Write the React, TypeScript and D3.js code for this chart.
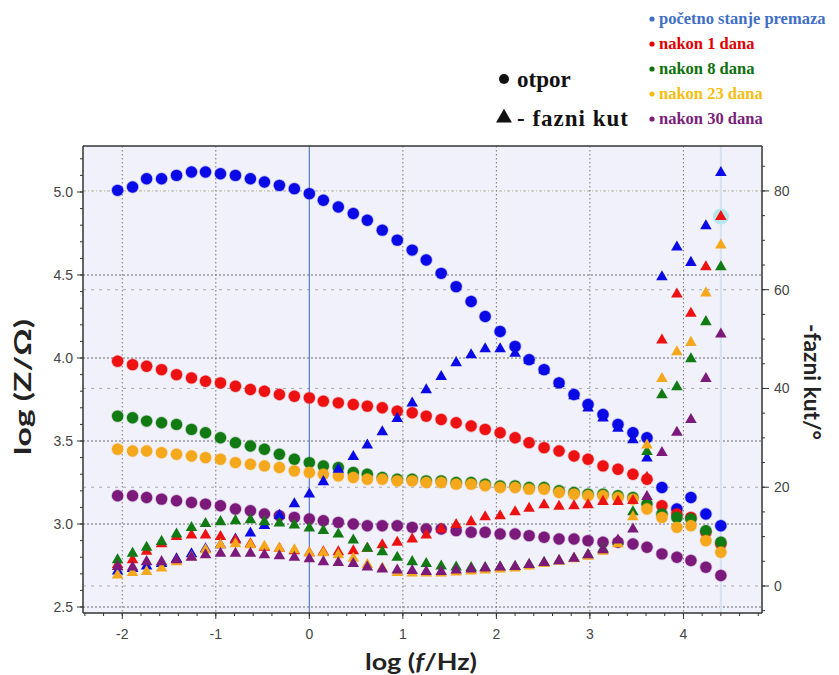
import React from 'react';
import * as d3 from 'd3';

const logF = [-2.05, -1.89, -1.74, -1.58, -1.42, -1.26, -1.11, -0.95, -0.79, -0.63, -0.48, -0.32, -0.16, 0.0, 0.15, 0.31, 0.47, 0.62, 0.78, 0.94, 1.10, 1.25, 1.41, 1.57, 1.73, 1.88, 2.04, 2.20, 2.35, 2.51, 2.67, 2.83, 2.98, 3.14, 3.30, 3.46, 3.61, 3.77, 3.93, 4.08, 4.24, 4.40];

const seriesNames = ['početno stanje premaza', 'nakon 1 dana', 'nakon 8 dana', 'nakon 23 dana', 'nakon 30 dana'];
const markerColors = ['#0a0ae6', '#ee1111', '#127a12', '#f6a81c', '#7b1a7b'];
const legendColors = ['#3f6fc6', '#e00000', '#0d700d', '#f7bd10', '#7a1f7a'];

const blueZ = [5.01, 5.03, 5.08, 5.08, 5.10, 5.12, 5.12, 5.11, 5.10, 5.08, 5.06, 5.04, 5.02, 4.99, 4.95, 4.91, 4.87, 4.83, 4.77, 4.71, 4.65, 4.59, 4.51, 4.43, 4.34, 4.25, 4.16, 4.07, 3.99, 3.93, 3.85, 3.78, 3.72, 3.66, 3.60, 3.55, 3.52, 3.22, 3.09, 3.16, 3.06, 2.99];
const redZ = [3.98, 3.96, 3.95, 3.93, 3.90, 3.88, 3.86, 3.85, 3.83, 3.81, 3.80, 3.78, 3.77, 3.76, 3.74, 3.73, 3.72, 3.71, 3.70, 3.68, 3.67, 3.65, 3.63, 3.61, 3.59, 3.57, 3.55, 3.52, 3.49, 3.46, 3.44, 3.41, 3.39, 3.35, 3.33, 3.30, 3.27, 3.11, 3.06, 3.04, 2.95, 2.88];
const greenZ = [3.65, 3.64, 3.62, 3.61, 3.60, 3.57, 3.55, 3.52, 3.49, 3.47, 3.45, 3.42, 3.39, 3.37, 3.35, 3.34, 3.31, 3.30, 3.28, 3.27, 3.27, 3.26, 3.26, 3.25, 3.25, 3.24, 3.23, 3.23, 3.22, 3.22, 3.20, 3.19, 3.18, 3.18, 3.17, 3.16, 3.12, 3.06, 3.04, 3.03, 2.96, 2.89];
const orangeZ = [3.45, 3.44, 3.44, 3.43, 3.42, 3.41, 3.40, 3.39, 3.37, 3.36, 3.35, 3.34, 3.32, 3.31, 3.30, 3.29, 3.28, 3.27, 3.27, 3.26, 3.26, 3.25, 3.25, 3.24, 3.24, 3.23, 3.22, 3.22, 3.21, 3.21, 3.19, 3.18, 3.17, 3.17, 3.16, 3.15, 3.09, 3.04, 2.98, 2.99, 2.90, 2.83];
const purpleZ = [3.17, 3.17, 3.16, 3.15, 3.14, 3.13, 3.12, 3.11, 3.09, 3.08, 3.06, 3.05, 3.04, 3.03, 3.02, 3.01, 3.00, 2.99, 2.99, 2.99, 2.98, 2.97, 2.97, 2.96, 2.95, 2.95, 2.94, 2.94, 2.93, 2.92, 2.91, 2.91, 2.90, 2.89, 2.89, 2.88, 2.86, 2.82, 2.80, 2.78, 2.74, 2.69];

const bluePhase = [3.0, 3.5, 4.0, 4.5, 5.5, 6.5, 7.5, 8.3, 9.5, 10.7, 12.2, 14.3, 16.6, 18.6, 21.1, 23.6, 26.2, 28.5, 31.2, 33.9, 37.0, 39.7, 42.4, 45.2, 46.8, 48.0, 48.0, 47.1, 45.7, 43.7, 41.0, 38.5, 36.0, 34.0, 31.9, 29.6, 25.9, 62.6, 68.6, 65.5, 72.9, 83.7];
const redPhase = [4.3, 5.3, 7.0, 8.5, 10.0, 10.3, 10.3, 10.0, 9.3, 8.5, 7.8, 7.6, 7.1, 6.7, 6.9, 6.9, 7.1, 7.6, 8.3, 8.8, 9.5, 10.3, 11.5, 12.4, 13.0, 14.0, 14.2, 15.0, 15.7, 16.4, 16.1, 16.2, 16.4, 17.1, 17.1, 17.3, 22.0, 49.8, 59.1, 55.2, 64.6, 74.8];
const greenPhase = [5.3, 6.6, 7.8, 9.0, 10.5, 11.8, 12.6, 13.0, 13.2, 13.4, 13.0, 12.7, 12.3, 11.7, 11.2, 10.5, 9.3, 7.6, 6.9, 5.8, 4.9, 4.5, 4.0, 3.8, 3.7, 3.7, 3.8, 3.9, 4.3, 4.7, 5.1, 5.6, 6.3, 7.5, 9.0, 15.0, 27.2, 38.7, 40.3, 46.0, 53.5, 64.6];
const orangePhase = [2.2, 2.7, 2.9, 3.6, 4.9, 5.9, 7.3, 8.3, 8.5, 8.3, 8.0, 7.6, 7.3, 6.7, 6.7, 6.3, 5.6, 4.3, 3.6, 2.7, 2.6, 2.6, 2.6, 2.8, 3.0, 3.2, 3.4, 3.6, 4.0, 4.5, 5.0, 5.5, 6.0, 7.0, 8.5, 14.0, 28.5, 42.0, 47.4, 49.3, 59.3, 69.0];
const purplePhase = [3.9, 3.8, 4.9, 4.9, 5.3, 5.8, 6.3, 6.6, 6.6, 6.6, 6.3, 6.1, 5.8, 5.5, 4.9, 4.7, 4.5, 3.8, 3.4, 3.2, 3.1, 2.9, 2.9, 3.2, 3.4, 3.6, 3.8, 3.9, 4.3, 4.7, 5.1, 5.6, 6.3, 7.3, 9.3, 11.5, 18.1, 27.0, 31.1, 33.7, 42.0, 51.0];

const zSeries = [blueZ, redZ, greenZ, orangeZ, purpleZ];
const phaseSeries = [bluePhase, redPhase, greenPhase, orangePhase, purplePhase];

const leftTicks = [2.5, 3.0, 3.5, 4.0, 4.5, 5.0];
const rightTicks = [0, 20, 40, 60, 80];
const xTicks = [-2, -1, 0, 1, 2, 3, 4];
const xTickLabels = ['-2', '-1', '0', '1', '2', '3', '4'];

const W = 839, H = 675;
const L = 83, R = 762, T = 146, B = 613;

export default function App() {
  const x = d3.scaleLinear().domain([-2.42, 4.84]).range([L, R]);
  const yL = d3.scaleLinear().domain([2.464, 5.277]).range([B, T]);
  const yR = d3.scaleLinear().domain([-5.47, 89.1]).range([B, T]);
  const tri = d3.symbol(d3.symbolTriangle, 58)() as string;
  const fmt = d3.format('.1f');

  const leftMinor = d3.range(2.5, 5.25, 0.1).map(v => +v.toFixed(2));
  const rightMinor = d3.range(-5, 90, 5);
  const xMinor = d3.range(-2.4, 4.85, 0.2).map(v => +v.toFixed(2));

  const tickFont = { fontFamily: 'Liberation Sans, Arial, sans-serif', fontSize: 14, fill: '#444' };
  const titleFont = { fontFamily: 'Lato, "Open Sans", sans-serif', fontSize: 23, fontWeight: 700, fill: '#222' };
  const serifBold = { fontFamily: '"Liberation Serif", "Times New Roman", serif', fontWeight: 700 };

  return (
    <svg width={W} height={H} style={{ position: 'absolute', left: 0, top: 0, background: '#fff' }}>
      <rect x={L} y={T} width={R - L} height={B - T} fill="#f0f1fb" />

      {rightTicks.map(t => (
        <line key={'rg' + t} x1={L} x2={R} y1={yR(t)} y2={yR(t)}
          stroke={t === 80 ? '#b0aa90' : '#a8a8b0'} strokeWidth={1}
          strokeDasharray={t === 80 ? '3,2,1,2' : '3,5'} />
      ))}
      {leftTicks.filter(t => t < 5).map(t => (
        <line key={'lg' + t} x1={L} x2={R} y1={yL(t)} y2={yL(t)}
          stroke="#6a6a6a" strokeWidth={1} strokeDasharray="2,2" />
      ))}
      {xTicks.filter(t => t !== 0).map(t => (
        <line key={'vg' + t} x1={x(t)} x2={x(t)} y1={T} y2={B}
          stroke="#777" strokeWidth={1} strokeDasharray="1.5,2.5" />
      ))}
      <line x1={x(0)} x2={x(0)} y1={T} y2={B} stroke="#5b7cc8" strokeWidth={1.2} />
      <line x1={x(logF[logF.length - 1])} x2={x(logF[logF.length - 1])} y1={T} y2={B} stroke="#d4e2f2" strokeWidth={2} />

      {zSeries.map((s, si) => (
        <g key={'c' + si}>
          {s.map((v, i) => (
            <circle key={i} cx={x(logF[i])} cy={yL(v)} r={5.7} fill={markerColors[si]}
              stroke={markerColors[si]} strokeOpacity={0.25} strokeWidth={1.5} />
          ))}
        </g>
      ))}

      <circle cx={x(logF[41])} cy={yR(redPhase[41])} r={8} fill="#b8e6ee" />

      {phaseSeries.map((s, si) => (
        <g key={'t' + si}>
          {s.map((v, i) => (
            <path key={i} d={tri} transform={`translate(${x(logF[i])},${yR(v)})`} fill={markerColors[si]} />
          ))}
        </g>
      ))}

      <line x1={L} x2={R} y1={T} y2={T} stroke="#333" strokeWidth={1.5} />
      <line x1={L} x2={R} y1={B} y2={B} stroke="#333" strokeWidth={1.5} />
      <line x1={L} x2={L} y1={T} y2={B} stroke="#333" strokeWidth={1.5} />
      <line x1={R} x2={R} y1={T} y2={B} stroke="#333" strokeWidth={1.5} />

      {leftMinor.map(t => (
        <line key={'lm' + t} x1={L - 3} x2={L} y1={yL(t)} y2={yL(t)} stroke="#333" />
      ))}
      {leftTicks.map(t => (
        <g key={'lt' + t}>
          <line x1={L - 6} x2={L} y1={yL(t)} y2={yL(t)} stroke="#333" />
          <text x={L - 10} y={yL(t) + 5} textAnchor="end" {...tickFont}>{fmt(t)}</text>
        </g>
      ))}
      {rightMinor.map(t => (
        <line key={'rm' + t} x1={R} x2={R + 3} y1={yR(t)} y2={yR(t)} stroke="#333" />
      ))}
      {rightTicks.map(t => (
        <g key={'rt' + t}>
          <line x1={R} x2={R + 7} y1={yR(t)} y2={yR(t)} stroke="#333" />
          <text x={R + 12} y={yR(t) + 5} textAnchor="start" {...tickFont}>{t}</text>
        </g>
      ))}
      {xMinor.map(t => (
        <line key={'xm' + t} x1={x(t)} x2={x(t)} y1={B} y2={B + 3} stroke="#333" />
      ))}
      {xTicks.map((t, i) => (
        <g key={'xt' + t}>
          <line x1={x(t)} x2={x(t)} y1={B} y2={B + 6} stroke="#333" />
          <text x={x(t)} y={B + 26} textAnchor="middle" {...tickFont}>{xTickLabels[i]}</text>
        </g>
      ))}

      <text transform={`translate(31,387) rotate(-90)`} textAnchor="middle" {...titleFont}
        textLength={136} lengthAdjust="spacingAndGlyphs">log (Z/Ω)</text>
      <text transform={`translate(804,382) rotate(90)`} textAnchor="middle" {...titleFont}
        fontSize={22} textLength={116} lengthAdjust="spacingAndGlyphs">-fazni kut/°</text>
      <text x={421} y={670} textAnchor="middle" {...titleFont}
        textLength={112} lengthAdjust="spacingAndGlyphs">
        log (<tspan fontStyle="italic">f</tspan>/Hz)
      </text>

      <circle cx={504} cy={79} r={5} fill="#111" />
      <text x={517} y={87} fontSize={23} fill="#111" {...serifBold}>otpor</text>
      <path d={d3.symbol(d3.symbolTriangle, 110)() as string} transform="translate(504,118)" fill="#111" />
      <text x={517} y={126} fontSize={23} fill="#111" {...serifBold}
        textLength={111} lengthAdjust="spacing">- fazni kut</text>

      {seriesNames.map((n, i) => (
        <g key={'lg' + i}>
          <circle cx={652} cy={19 + i * 25} r={2.6} fill={legendColors[i]} />
          <text x={659} y={24 + i * 25} fontSize={16.5} fill={legendColors[i]} {...serifBold}>{n}</text>
        </g>
      ))}
    </svg>
  );
}
